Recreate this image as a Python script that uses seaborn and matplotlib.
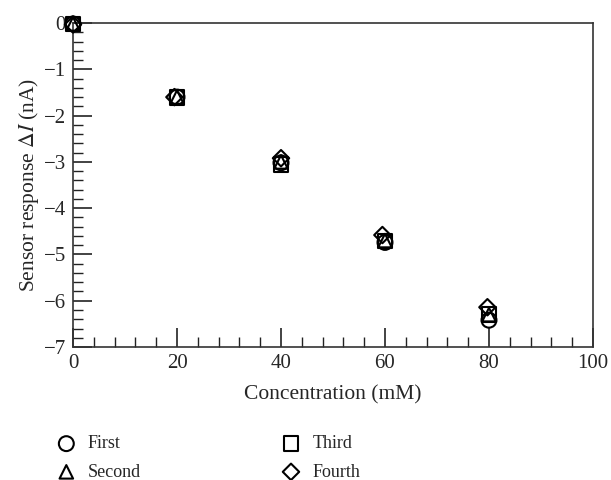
import matplotlib
matplotlib.use("Agg")
import matplotlib.pyplot as plt
import seaborn as sns
import numpy as np
from matplotlib.ticker import MultipleLocator

# Data
concentration = [0, 20, 40, 60, 80]
first = [-0.02, -1.60, -3.02, -4.74, -6.42]
second = [-0.02, -1.60, -3.00, -4.70, -6.30]
third = [-0.02, -1.60, -3.05, -4.71, -6.30]
fourth_x = [0, 19.5, 40, 59.5, 79.7]
fourth = [-0.03, -1.60, -2.92, -4.58, -6.14]

series_names = ["First", "Second", "Third", "Fourth"]

sns.set_style("white")
plt.rcParams['font.family'] = ['Liberation Serif', 'DejaVu Serif']
plt.rcParams['mathtext.fontset'] = 'stix'

fig = plt.figure(figsize=(6.11, 4.8), dpi=100)
ax = fig.add_axes([0.1195, 0.277, 0.851, 0.675])

common = dict(facecolor="none", edgecolor="black", linewidth=1.5, ax=ax, zorder=3, clip_on=False)
sns.scatterplot(x=concentration, y=first, marker="o", s=115, label=series_names[0], **common)
sns.scatterplot(x=concentration, y=second, marker="^", s=95, label=series_names[1], **common)
sns.scatterplot(x=concentration, y=third, marker="s", s=115, label=series_names[2], **common)
sns.scatterplot(x=fourth_x, y=fourth, marker="D", s=70, label=series_names[3], **common)

ax.set_xlim(0, 100)
ax.set_ylim(-7, 0)
ax.xaxis.set_major_locator(MultipleLocator(20))
ax.xaxis.set_minor_locator(MultipleLocator(4))
ax.yaxis.set_major_locator(MultipleLocator(1))
ax.yaxis.set_minor_locator(MultipleLocator(0.2))
ax.tick_params(which="major", direction="in", length=14, width=1.2, color="#222222",
               labelsize=15, pad=5, top=False, right=False, bottom=True, left=True)
ax.tick_params(which="minor", direction="in", length=7, width=1.0, color="#222222",
               top=False, right=False, bottom=True, left=True)
for s in ax.spines.values():
    s.set_color("#333333")
    s.set_linewidth(1.2)

ax.set_xlabel("Concentration (mM)", fontsize=15.5, labelpad=9)
ax.set_ylabel(r"Sensor response $\Delta I$ (nA)", fontsize=15.5, labelpad=2)

handles, labels = ax.get_legend_handles_labels()
ax.get_legend().remove()
fig.legend(handles, labels, ncol=2, loc="upper left", bbox_to_anchor=(0.079, 0.108),
           frameon=False, fontsize=13, handletextpad=0.6, columnspacing=7.7,
           labelspacing=0.62, handlelength=1.2, borderaxespad=0)

fig.savefig("out.png", dpi=100)
